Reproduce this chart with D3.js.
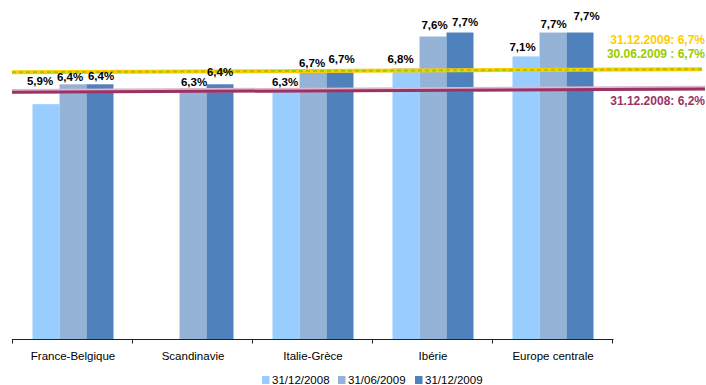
<!DOCTYPE html>
<html><head><meta charset="utf-8">
<script src="https://cdn.jsdelivr.net/npm/d3@7"></script>
<style>
html,body{margin:0;padding:0;background:#fff;}
svg{display:block;font-family:"Liberation Sans",Arial,sans-serif;}
</style></head>
<body><svg id="chart" width="706" height="385"></svg>
<script>
// ---- data ----
const categories = ["France-Belgique","Scandinavie","Italie-Grèce","Ibérie","Europe centrale"];
const seriesNames = ["31/12/2008","31/06/2009","31/12/2009"];
const s2008_12 = [5.9, null, 6.3, 6.8, 7.1];
const s2009_06 = [6.4, 6.3, 6.7, 7.6, 7.7];
const s2009_12 = [6.4, 6.4, 6.7, 7.7, 7.7];
const refNames = ["31.12.2009: 6,7%","30.06.2009 : 6,7%","31.12.2008: 6,2%"];
const refStart = [6.7, 6.7, 6.2];
const refEnd   = [6.78, 6.78, 6.28];

// ---- styles / layout ----
const colors = ["#99CCFF","#95B3D7","#4F81BD"];
const refColors = ["#FFCC00","#99CC00","#993366"];
// label nudges [dx, lift above bar top] per category x series
const labelNudge = [
  [[-6,19],[-3,3],[1,4]],
  [[0,0],[1,2],[0,8]],
  [[-1,2],[-1,5],[1.5,9]],
  [[-5.5,5],[1.5,8],[5,7]],
  [[-3.5,5],[0.5,5],[6.5,13]]
];

const svg = d3.select("#chart");
const x = d3.scaleBand().domain(categories).range([13,613]).paddingInner(0).paddingOuter(0);
const y = d3.scaleLinear().domain([0, 8.5]).range([339, 339 - 8.5*39.8]);
const x1 = d3.scaleBand().domain(d3.range(3)).range([19.5, 100.5]);

const series = [s2008_12, s2009_06, s2009_12];
const fmt = v => d3.format(".1f")(v).replace(".", ",") + "%";

const g = svg.append("g");
categories.forEach((c, ci) => {
  series.forEach((s, si) => {
    const v = s[ci];
    if (v == null) return;
    g.append("rect")
      .attr("x", x(c) + x1(si))
      .attr("y", y(v))
      .attr("width", x1.bandwidth())
      .attr("height", y(0) - y(v))
      .attr("fill", colors[si]);
  });
});

// reference lines
const xl = d3.scaleLinear().domain([0,1]).range([12, 702]);
// magenta with halo
svg.append("line")
  .attr("x1", xl(0)).attr("x2", 705)
  .attr("y1", y(refStart[2]) - 1).attr("y2", y(refEnd[2]) - 1)
  .attr("stroke", "#e3b6cc").attr("stroke-width", 4.5);
svg.append("line")
  .attr("x1", xl(0)).attr("x2", 705)
  .attr("y1", y(refStart[2])).attr("y2", y(refEnd[2]))
  .attr("stroke", refColors[2]).attr("stroke-width", 3);
// yellow + green dashed
svg.append("line")
  .attr("x1", xl(0)).attr("x2", xl(1))
  .attr("y1", y(refStart[0])).attr("y2", y(refEnd[0]))
  .attr("stroke", refColors[0]).attr("stroke-width", 4);
svg.append("line")
  .attr("x1", xl(0)).attr("x2", xl(1))
  .attr("y1", y(refStart[1])).attr("y2", y(refEnd[1]))
  .attr("stroke", refColors[1]).attr("stroke-width", 2)
  .attr("stroke-dasharray", "4,3");

// bar labels
categories.forEach((c, ci) => {
  series.forEach((s, si) => {
    const v = s[ci];
    if (v == null) return;
    const n = labelNudge[ci][si];
    svg.append("text")
      .attr("x", x(c) + x1(si) + x1.bandwidth()/2 + n[0])
      .attr("y", y(v) - n[1])
      .attr("text-anchor", "middle")
      .attr("font-size", "11.5px")
      .attr("font-weight", "bold")
      .attr("fill", "#000")
      .text(fmt(v));
  });
});

// ref labels
const refLabelDy = [-25, -11, 16];
refNames.forEach((t, i) => {
  svg.append("text")
    .attr("x", 705)
    .attr("y", y(refEnd[i]) + refLabelDy[i])
    .attr("text-anchor", "end")
    .attr("font-size", "12px")
    .attr("font-weight", "bold")
    .attr("fill", refColors[i])
    .text(t);
});

// axis
const axis = svg.append("g").attr("transform", "translate(0,339)");
axis.append("line").attr("x1", 12.5).attr("x2", 613.5).attr("y1", 0.5).attr("y2", 0.5)
  .attr("stroke", "#222").attr("stroke-width", 1);
const ticks = categories.map(c => x(c)).concat([x.range()[1]]);
axis.selectAll("line.tick").data(ticks).enter().append("line")
  .attr("class","tick")
  .attr("x1", d => Math.round(d) - 0.5).attr("x2", d => Math.round(d) - 0.5)
  .attr("y1", 0).attr("y2", 4.5).attr("stroke", "#222");
axis.selectAll("text").data(categories).enter().append("text")
  .attr("x", d => x(d) + x.bandwidth()/2)
  .attr("y", 21)
  .attr("text-anchor", "middle")
  .attr("font-size", "11.5px")
  .attr("fill", "#000")
  .text(d => d);

// legend
const legX = [262, 338, 415];
seriesNames.forEach((n, i) => {
  svg.append("rect").attr("x", legX[i]).attr("y", 376).attr("width", 7.5).attr("height", 8)
    .attr("fill", colors[i]);
  svg.append("text").attr("x", legX[i] + 10).attr("y", 384)
    .attr("font-size", "11.5px").attr("fill", "#000").text(n);
});
</script>
</body></html>
